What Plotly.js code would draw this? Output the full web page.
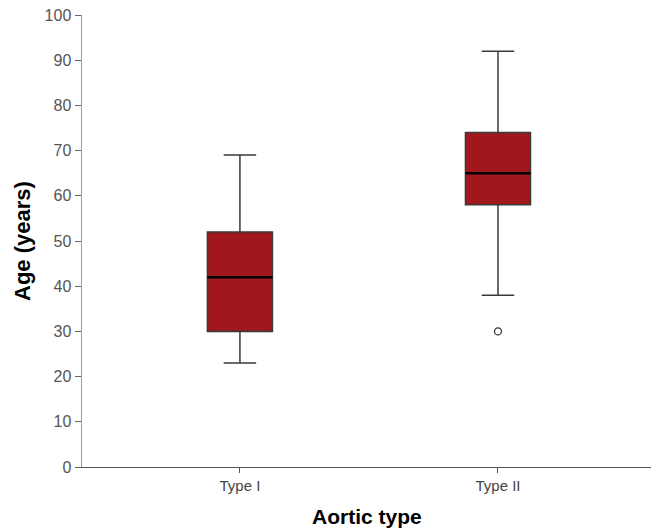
<!DOCTYPE html>
<html>
<head>
<meta charset="utf-8">
<script src="https://cdn.plot.ly/plotly-3.0.1.min.js"></script>
<style>html,body{margin:0;padding:0;background:#fff;}#chart{width:651px;height:530px;}</style>
</head>
<body>
<div id="chart"></div>
<script>
const categories = ["Type I", "Type II"];
const lowerWhisker = [23, 38];
const q1 = [30, 58];
const median = [42, 65];
const q3 = [52, 74];
const upperWhisker = [69, 92];
const outlierCategory = ["Type II"];
const outlierValue = [30];
const xTitle = "Aortic type";
const yTitle = "Age (years)";

const boxWidth = 0.252;
const catIndex = c => categories.indexOf(c);

const traces = [{
  type: 'box',
  x: [0, 1],
  q1: q1, median: median, q3: q3,
  lowerfence: lowerWhisker, upperfence: upperWhisker,
  width: boxWidth,
  whiskerwidth: 0.5,
  fillcolor: '#A0171C',
  line: {color: '#3a3a3a', width: 1.5},
  boxpoints: false,
  hoverinfo: 'skip',
  showlegend: false
}];

categories.forEach((c, i) => {
  traces.push({
    type: 'scatter', mode: 'lines',
    x: [i - boxWidth / 2, i + boxWidth / 2],
    y: [median[i], median[i]],
    line: {color: '#000', width: 2.5},
    showlegend: false, hoverinfo: 'skip'
  });
});

traces.push({
  type: 'scatter', mode: 'markers',
  x: outlierCategory.map(catIndex),
  y: outlierValue,
  marker: {symbol: 'circle-open', size: 7, color: '#333', line: {width: 1.3, color: '#333'}},
  showlegend: false, hoverinfo: 'skip'
});

const layout = {
  width: 651, height: 530,
  margin: {l: 82, r: 0, t: 15, b: 63},
  paper_bgcolor: '#fff', plot_bgcolor: '#fff',
  font: {family: 'Liberation Sans, Arial, sans-serif'},
  showlegend: false,
  xaxis: {
    range: [-0.612, 1.593],
    tickmode: 'array', tickvals: [0, 1], ticktext: categories,
    ticks: 'outside', ticklen: 5, tickcolor: '#555', tickwidth: 1,
    showline: true, linecolor: '#555', linewidth: 1,
    showgrid: false, zeroline: false,
    tickfont: {size: 15, color: '#444'},
    automargin: false
  },
  yaxis: {
    range: [0, 100],
    tickmode: 'array', tickvals: [0,10,20,30,40,50,60,70,80,90,100],
    ticks: 'outside', ticklen: 6, tickcolor: '#666', tickwidth: 1,
    showline: true, linecolor: '#999', linewidth: 1.5,
    showgrid: false, zeroline: false,
    tickfont: {size: 16, color: '#555'},
    automargin: false
  },
  annotations: [
    {text: '<b>' + xTitle + '</b>', xref: 'paper', yref: 'paper', x: 0.5, y: 0,
     xanchor: 'center', yanchor: 'bottom', yshift: -63, showarrow: false,
     font: {size: 21, color: '#000'}},
    {text: '<b>' + yTitle + '</b>', xref: 'paper', yref: 'paper', x: 0, y: 0.5,
     xanchor: 'center', yanchor: 'middle', xshift: -60, textangle: -90, showarrow: false,
     font: {size: 22, color: '#000'}}
  ]
};

Plotly.newPlot('chart', traces, layout, {displayModeBar: false, staticPlot: true});
</script>
</body>
</html>
